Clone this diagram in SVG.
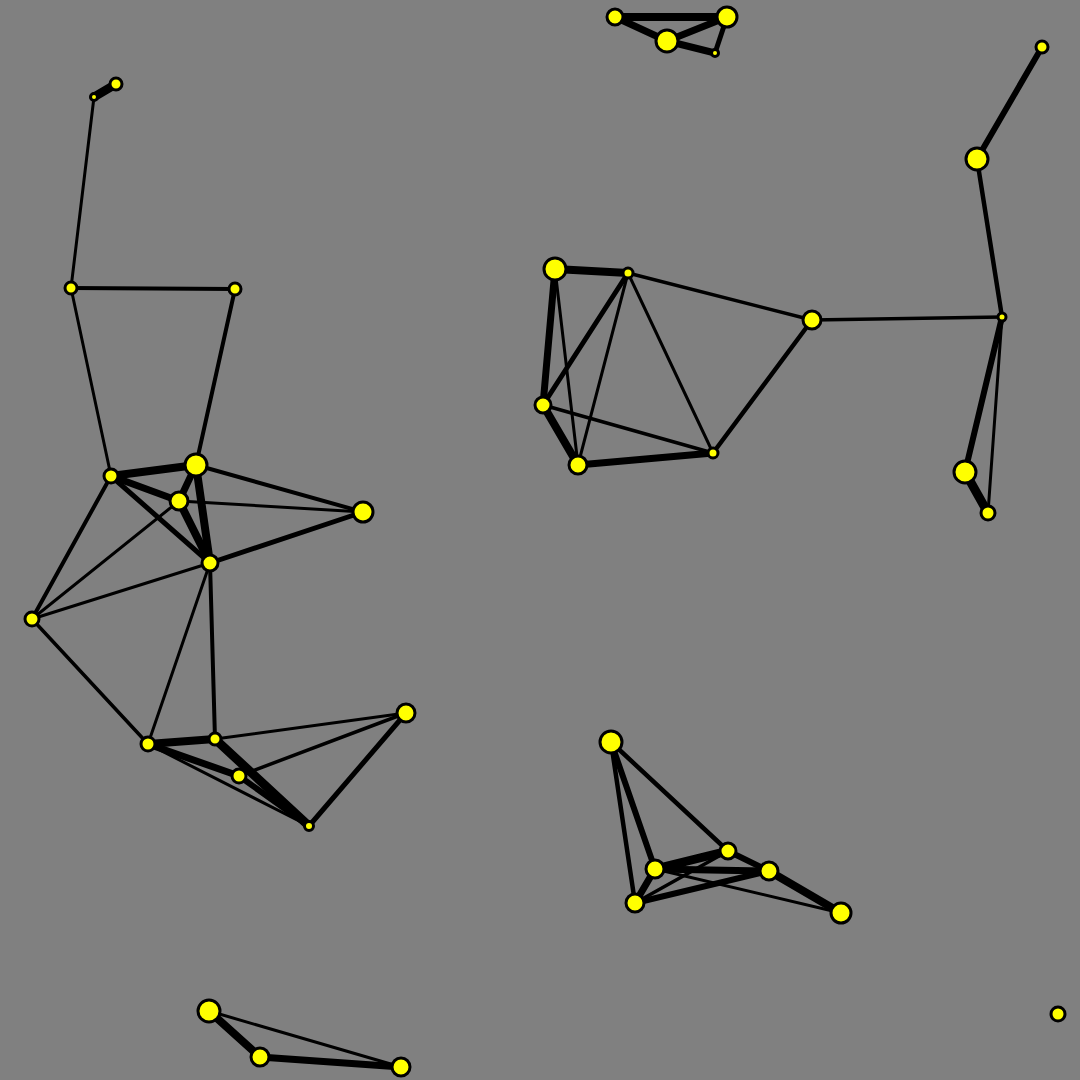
<svg xmlns="http://www.w3.org/2000/svg" width="1080" height="1080" viewBox="0 0 1080 1080">
<style>
.n{fill:#ffff00;stroke:#000;stroke-width:3}
#edges line{stroke:#000;stroke-linecap:round}
</style>
<rect width="1080" height="1080" fill="#808080"/>
<g id="edges">
<line x1="116" y1="84" x2="94" y2="97" stroke-width="9"/>
<line x1="94" y1="97" x2="71" y2="288" stroke-width="3"/>
<line x1="71" y1="288" x2="235" y2="289" stroke-width="4"/>
<line x1="71" y1="288" x2="111" y2="476" stroke-width="3"/>
<line x1="235" y1="289" x2="196" y2="465" stroke-width="4"/>
<line x1="111" y1="476" x2="196" y2="465" stroke-width="8"/>
<line x1="111" y1="476" x2="179" y2="501" stroke-width="7"/>
<line x1="111" y1="476" x2="210" y2="563" stroke-width="5"/>
<line x1="111" y1="476" x2="32" y2="619" stroke-width="4"/>
<line x1="196" y1="465" x2="179" y2="501" stroke-width="7"/>
<line x1="196" y1="465" x2="210" y2="563" stroke-width="8"/>
<line x1="196" y1="465" x2="363" y2="512" stroke-width="4"/>
<line x1="179" y1="501" x2="363" y2="512" stroke-width="3"/>
<line x1="179" y1="501" x2="210" y2="563" stroke-width="8"/>
<line x1="179" y1="501" x2="32" y2="619" stroke-width="3"/>
<line x1="210" y1="563" x2="32" y2="619" stroke-width="3"/>
<line x1="210" y1="563" x2="363" y2="512" stroke-width="5"/>
<line x1="210" y1="563" x2="148" y2="744" stroke-width="3"/>
<line x1="210" y1="563" x2="215" y2="739" stroke-width="4"/>
<line x1="32" y1="619" x2="148" y2="744" stroke-width="3.5"/>
<line x1="148" y1="744" x2="215" y2="739" stroke-width="8"/>
<line x1="148" y1="744" x2="239" y2="776" stroke-width="7"/>
<line x1="148" y1="744" x2="309" y2="826" stroke-width="3"/>
<line x1="215" y1="739" x2="309" y2="826" stroke-width="9"/>
<line x1="239" y1="776" x2="309" y2="826" stroke-width="6"/>
<line x1="215" y1="739" x2="406" y2="713" stroke-width="3"/>
<line x1="239" y1="776" x2="406" y2="713" stroke-width="3.5"/>
<line x1="406" y1="713" x2="309" y2="826" stroke-width="5"/>
<line x1="615" y1="17" x2="727" y2="17" stroke-width="8"/>
<line x1="615" y1="17" x2="667" y2="41" stroke-width="7"/>
<line x1="667" y1="41" x2="727" y2="17" stroke-width="7"/>
<line x1="667" y1="41" x2="715" y2="53" stroke-width="7"/>
<line x1="727" y1="17" x2="715" y2="53" stroke-width="5"/>
<line x1="555" y1="269" x2="628" y2="273" stroke-width="8"/>
<line x1="555" y1="269" x2="543" y2="405" stroke-width="7"/>
<line x1="555" y1="269" x2="578" y2="465" stroke-width="3"/>
<line x1="628" y1="273" x2="543" y2="405" stroke-width="5"/>
<line x1="628" y1="273" x2="578" y2="465" stroke-width="3"/>
<line x1="628" y1="273" x2="713" y2="453" stroke-width="3"/>
<line x1="628" y1="273" x2="812" y2="320" stroke-width="3.5"/>
<line x1="812" y1="320" x2="713" y2="453" stroke-width="4.5"/>
<line x1="543" y1="405" x2="713" y2="453" stroke-width="3.5"/>
<line x1="543" y1="405" x2="578" y2="465" stroke-width="8"/>
<line x1="578" y1="465" x2="713" y2="453" stroke-width="7"/>
<line x1="812" y1="320" x2="1002" y2="317" stroke-width="3.5"/>
<line x1="1042" y1="47" x2="977" y2="159" stroke-width="6"/>
<line x1="977" y1="159" x2="1002" y2="317" stroke-width="4.5"/>
<line x1="1002" y1="317" x2="965" y2="472" stroke-width="6"/>
<line x1="1002" y1="317" x2="988" y2="513" stroke-width="3"/>
<line x1="965" y1="472" x2="988" y2="513" stroke-width="9"/>
<line x1="611" y1="742" x2="655" y2="869" stroke-width="6"/>
<line x1="611" y1="742" x2="635" y2="903" stroke-width="4.5"/>
<line x1="611" y1="742" x2="728" y2="851" stroke-width="4.5"/>
<line x1="655" y1="869" x2="728" y2="851" stroke-width="9"/>
<line x1="655" y1="869" x2="769" y2="871" stroke-width="7"/>
<line x1="655" y1="869" x2="635" y2="903" stroke-width="7"/>
<line x1="655" y1="869" x2="841" y2="913" stroke-width="3"/>
<line x1="635" y1="903" x2="728" y2="851" stroke-width="3.5"/>
<line x1="635" y1="903" x2="769" y2="871" stroke-width="6"/>
<line x1="728" y1="851" x2="769" y2="871" stroke-width="6"/>
<line x1="769" y1="871" x2="841" y2="913" stroke-width="8"/>
<line x1="209" y1="1011" x2="260" y2="1057" stroke-width="8"/>
<line x1="260" y1="1057" x2="401" y2="1067" stroke-width="7"/>
<line x1="209" y1="1011" x2="401" y2="1067" stroke-width="3"/>
</g>
<g id="n1"><circle class="n" cx="116" cy="84" r="6"/></g>
<g id="n2"><circle class="n" cx="94" cy="97" r="3.5"/></g>
<g id="n3"><circle class="n" cx="71" cy="288" r="6"/></g>
<g id="n4"><circle class="n" cx="235" cy="289" r="6"/></g>
<g id="n5"><circle class="n" cx="111" cy="476" r="7"/></g>
<g id="n6"><circle class="n" cx="196" cy="465" r="11"/></g>
<g id="n7"><circle class="n" cx="179" cy="501" r="9"/></g>
<g id="n8"><circle class="n" cx="363" cy="512" r="10"/></g>
<g id="n9"><circle class="n" cx="210" cy="563" r="8"/></g>
<g id="n10"><circle class="n" cx="32" cy="619" r="7"/></g>
<g id="n11"><circle class="n" cx="148" cy="744" r="7"/></g>
<g id="n12"><circle class="n" cx="215" cy="739" r="6"/></g>
<g id="n13"><circle class="n" cx="239" cy="776" r="7"/></g>
<g id="n14"><circle class="n" cx="406" cy="713" r="9"/></g>
<g id="n15"><circle class="n" cx="309" cy="826" r="4.5"/></g>
<g id="n16"><circle class="n" cx="615" cy="17" r="8"/></g>
<g id="n17"><circle class="n" cx="727" cy="17" r="10"/></g>
<g id="n18"><circle class="n" cx="667" cy="41" r="11"/></g>
<g id="n19"><circle class="n" cx="715" cy="53" r="3.5"/></g>
<g id="n20"><circle class="n" cx="555" cy="269" r="11"/></g>
<g id="n21"><circle class="n" cx="628" cy="273" r="5"/></g>
<g id="n22"><circle class="n" cx="812" cy="320" r="9"/></g>
<g id="n23"><circle class="n" cx="543" cy="405" r="8"/></g>
<g id="n24"><circle class="n" cx="578" cy="465" r="9"/></g>
<g id="n25"><circle class="n" cx="713" cy="453" r="5"/></g>
<g id="n26"><circle class="n" cx="1042" cy="47" r="6"/></g>
<g id="n27"><circle class="n" cx="977" cy="159" r="11"/></g>
<g id="n28"><circle class="n" cx="1002" cy="317" r="4"/></g>
<g id="n29"><circle class="n" cx="965" cy="472" r="11"/></g>
<g id="n30"><circle class="n" cx="988" cy="513" r="7"/></g>
<g id="n31"><circle class="n" cx="611" cy="742" r="11"/></g>
<g id="n32"><circle class="n" cx="655" cy="869" r="9"/></g>
<g id="n33"><circle class="n" cx="728" cy="851" r="8"/></g>
<g id="n34"><circle class="n" cx="769" cy="871" r="9"/></g>
<g id="n35"><circle class="n" cx="635" cy="903" r="9"/></g>
<g id="n36"><circle class="n" cx="841" cy="913" r="10"/></g>
<g id="n37"><circle class="n" cx="209" cy="1011" r="11"/></g>
<g id="n38"><circle class="n" cx="260" cy="1057" r="9"/></g>
<g id="n39"><circle class="n" cx="401" cy="1067" r="9"/></g>
<g id="n40"><circle class="n" cx="1058" cy="1014" r="7"/></g>
</svg>
